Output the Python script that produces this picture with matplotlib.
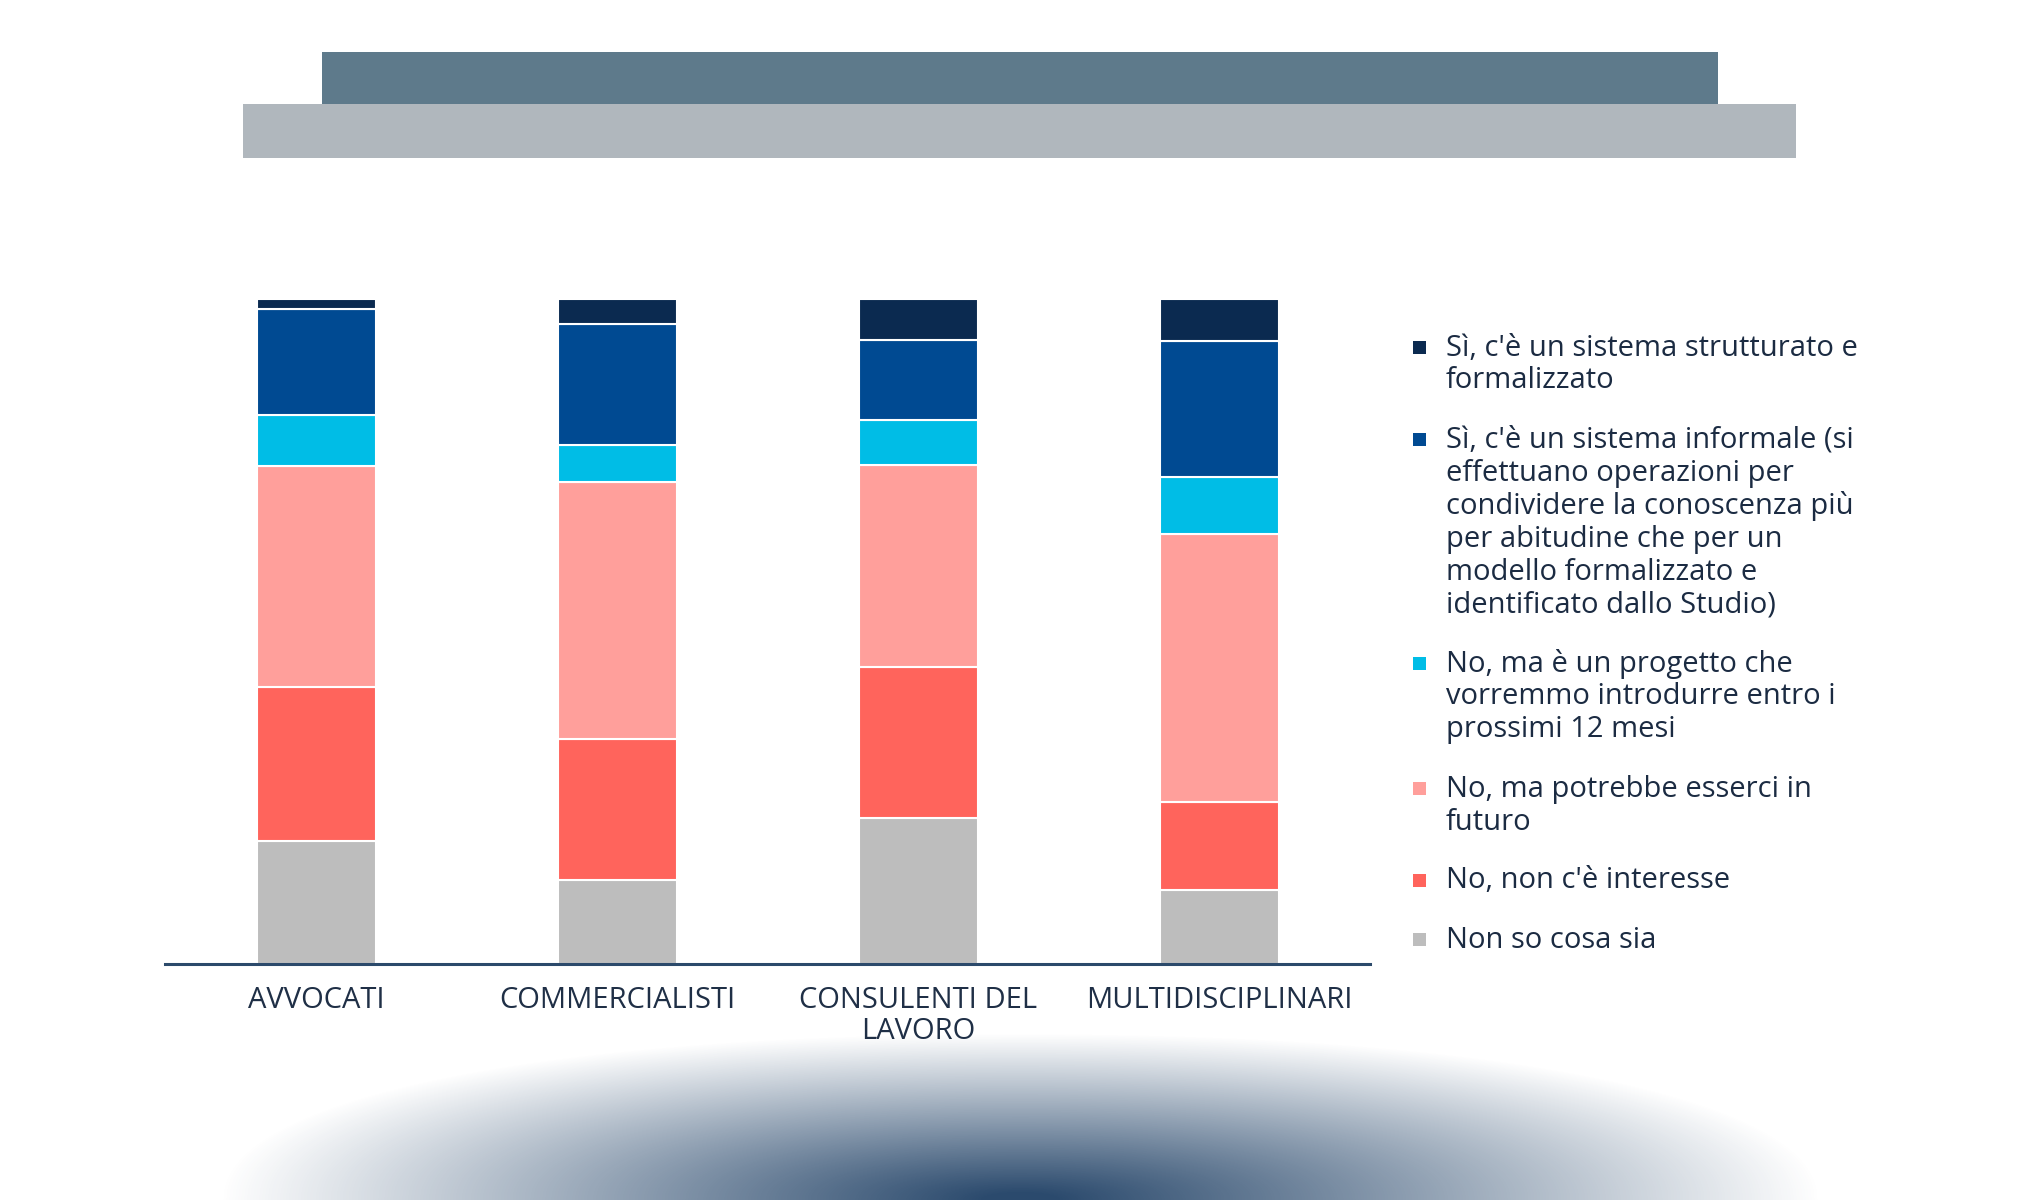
#!/usr/bin/env python3

# Stacked bars: knowledge sharing system by type of firm

import numpy as np
from matplotlib import pyplot as plt
from matplotlib.patches import Rectangle
import matplotlib

matplotlib.rcParams.update({
    'font.family': ['Open Sans', 'DejaVu Sans'],
    'figure.dpi': 100,
})

categories = ["AVVOCATI", "COMMERCIALISTI", "CONSULENTI DEL\nLAVORO", "MULTIDISCIPLINARI"]

# stacked from the bottom up (percent)
non_so = [18.5, 12.6, 21.9, 11.2]
no_interesse = [23.1, 21.2, 22.8, 13.2]
potrebbe = [33.3, 38.7, 30.3, 40.2]
progetto = [7.7, 5.6, 6.8, 8.7]
informale = [15.9, 18.1, 12.1, 20.4]
strutturato = [1.5, 3.8, 6.1, 6.3]

series = [non_so, no_interesse, potrebbe, progetto, informale, strutturato]
colors = ["#bdbdbd", "#ff645c", "#ff9f9b", "#00bde6", "#004a92", "#0b2a50"]

# legend order is top of the stack first
legend_labels = [
    "Sì, c'è un sistema strutturato e\nformalizzato",
    "Sì, c'è un sistema informale (si\neffettuano operazioni per\ncondividere la conoscenza più\n"
    "per abitudine che per un\nmodello formalizzato e\nidentificato dallo Studio)",
    "No, ma è un progetto che\nvorremmo introdurre entro i\nprossimi 12 mesi",
    "No, ma potrebbe esserci in\nfuturo",
    "No, non c'è interesse",
    "Non so cosa sia",
]
legend_colors = colors[::-1]

W, H = 2040, 1200
fig = plt.figure(figsize=(W / 100, H / 100))

# background layer in pixel coordinates
bg = fig.add_axes([0, 0, 1, 1], zorder=0)
bg.set_xlim(0, W)
bg.set_ylim(H, 0)
bg.axis('off')

# header blocks
bg.add_patch(Rectangle((243, 104), 1553, 54, color="#b0b7bd", lw=0))
bg.add_patch(Rectangle((322, 52), 1396, 52, color="#5e7a8b", lw=0))

# dark glow at the bottom
xx, yy = np.meshgrid(np.arange(W), np.arange(H))
p = 2.2
d = (np.abs((xx - 1020) / 800.) ** p + np.abs((yy - 1200) / 167.) ** p) ** (1 / p)
a = np.clip((1 - d) / 0.95, 0, 1)
img = np.zeros((H, W, 4))
img[..., 0] = 0x2b / 255.
img[..., 1] = 0x4a / 255.
img[..., 2] = 0x6d / 255.
img[..., 3] = a
bg.imshow(img, extent=(0, W, H, 0), interpolation='bilinear', zorder=1)

# chart
ax = fig.add_axes([165.4 / W, (H - 964) / H, 1205 / W, 665 / H], zorder=2)
ax.patch.set_alpha(0)
x = np.arange(len(categories))
bottom = np.zeros(len(categories))
for vals, c in zip(series, colors):
    ax.bar(x, vals, 0.395, bottom=bottom, color=c, edgecolor="white", linewidth=1.5)
    bottom += np.array(vals)

ax.set_xlim(-0.5, 3.5)
ax.set_ylim(0, 100)
for s in ['top', 'right', 'left']:
    ax.spines[s].set_visible(False)
ax.spines['bottom'].set_color("#2c4a6b")
ax.spines['bottom'].set_linewidth(2.2)
ax.spines['bottom'].set_zorder(5)
ax.set_yticks([])
ax.set_xticks(x)
ax.set_xticklabels(categories, fontsize=21, color="#1f2f46", linespacing=1.1)
ax.tick_params(axis='x', length=0, pad=16)

# legend drawn by hand
ly = 348
for lab, c in zip(legend_labels, legend_colors):
    lines = lab.split("\n")
    bg.add_patch(Rectangle((1413, ly - 7), 13, 13, color=c, lw=0, zorder=3))
    for i, line in enumerate(lines):
        bg.text(1446, ly + i * 33, line, fontsize=21, color="#1b2b42",
                va='center', ha='left', zorder=3)
    ly += (len(lines) - 1) * 33 + 59

plt.savefig("out.png", dpi=100)
